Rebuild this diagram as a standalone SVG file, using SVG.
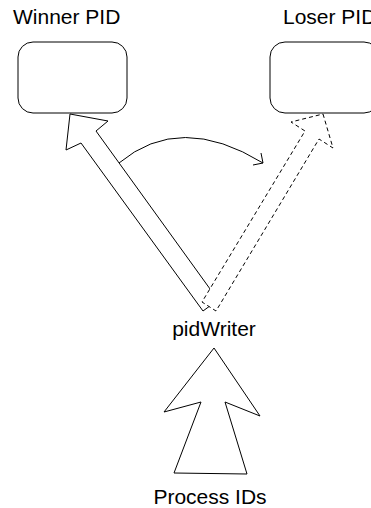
<svg xmlns="http://www.w3.org/2000/svg" width="371" height="508" viewBox="0 0 371 508">
<style>
  .lbl { font-family: "Liberation Sans", Arial, sans-serif; font-size: 21px; fill: #000; }
  .box { fill: #fff; stroke: #000; stroke-width: 1; }
  .blk { fill: #fff; stroke: #000; stroke-width: 1; stroke-linejoin: miter; }
  .dash { stroke-dasharray: 4 3; }
  .ln { fill: none; stroke: #000; stroke-width: 1; }
</style>
<rect width="371" height="508" fill="#fff"/>
<g id="winner">
  <rect class="box" x="18" y="42" width="109" height="71" rx="15" ry="15"/>
  <text class="lbl" x="13" y="24">Winner PID</text>
</g>
<g id="loser">
  <rect class="box" x="270" y="42" width="109" height="71" rx="15" ry="15"/>
  <text class="lbl" x="283" y="24">Loser PID</text>
</g>
<g id="pidWriter">
  <text class="lbl" x="214" y="336" text-anchor="middle">pidWriter</text>
</g>
<g id="processIds">
  <text class="lbl" x="210" y="504" text-anchor="middle">Process IDs</text>
</g>
<g id="connectors">
  <polygon class="blk" points="70,114 108,121 96,131 218,300 203,311 81,143 66,150"/>
  <polygon class="blk dash" points="323,114 333,148 319,139 216,311 202,302 305,131 291,122"/>
  <path class="ln" d="M119,163 Q180,112 263,163"/>
  <polyline class="ln" points="253,165 263,163 261,153"/>
  <polygon class="blk" points="214,348 260,416 225,402 247,474 174,473 201,402 164,412"/>
</g>
</svg>
